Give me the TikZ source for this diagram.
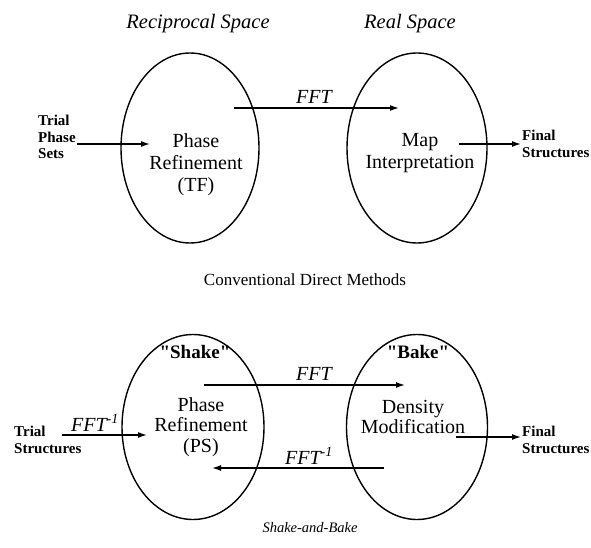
\documentclass[tikz,border=0pt]{standalone}
\usepackage{fontspec}
\setmainfont{Liberation Serif}
\usetikzlibrary{shapes.geometric,arrows.meta}

\begin{document}
\begin{tikzpicture}[x=1pt,y=-1pt,
        region/.style={draw,line width=1.4pt,ellipse,minimum width=138pt,minimum height=190pt},
        heading/.style={font=\fontsize{20.5}{22}\selectfont\itshape},
        stage/.style={align=center,inner sep=1pt,font=\fontsize{20}{22}\selectfont},
        io/.style={align=left,anchor=west,inner sep=1pt,font=\fontsize{15}{16.5}\selectfont\bfseries},
        fft/.style={inner sep=1pt,font=\fontsize{20}{22}\selectfont\itshape},
        nick/.style={inner sep=1pt,font=\fontsize{19}{22}\selectfont\bfseries},
        flow/.style={-{Latex[length=9pt,width=6pt]},line width=1.4pt}
    ]
    \useasboundingbox (0,0) rectangle (591,548);

    % conventional direct methods
    \node[heading] (recipT) at (198,24) {Reciprocal Space};
    \node[heading] (realT) at (410,24) {Real Space};

    \node[region] (recipA) at (190,148) {};
    \node[region,minimum width=140pt] (realA) at (417,148) {};

    \node[stage] (phaseA) at (196,165) {Phase\\Refinement\\(TF)};
    \node[stage] (mapA) at (420,153) {Map\\Interpretation};
    \node[io] (trialA) at (37,137) {Trial\\Phase\\Sets};
    \node[io] (finalA) at (521,144) {Final\\Structures};

    \coordinate (inA) at (150,144);
    \draw[flow] ([yshift=-7pt]trialA.east) -- (inA);

    \coordinate (fftAs) at (234,108);
    \coordinate (fftAe) at (399,108);
    \draw[flow] (fftAs) -- (fftAe);
    \node[fft] (fftA) at (314,97) {FFT};

    \coordinate (outAs) at (459,144);
    \draw[flow] (outAs) -- (finalA.west);

    \node[font=\fontsize{17}{20}\selectfont] (convT) at (305,280) {Conventional Direct Methods};

    % shake-and-bake
    \node[region,minimum width=142pt,minimum height=185pt] (recipB) at (193,427) {};
    \node[region,minimum width=141pt,minimum height=185pt] (realB) at (417,427) {};

    \node[nick] (shake) at (195,352) {\textquotedbl Shake\textquotedbl};
    \node[nick] (bake) at (418,352) {\textquotedbl Bake\textquotedbl};

    \node[stage,font=\fontsize{20}{20.5}\selectfont] (phaseB) at (201,427) {Phase\\Refinement\\(PS)};
    \node[stage,font=\fontsize{20}{20.5}\selectfont] (densB) at (413,417) {Density\\Modification};
    \node[io] (trialB) at (13,440) {Trial\\Structures};
    \node[io] (finalB) at (521,440) {Final\\Structures};

    \node[fft] (fftinvL) at (95,423) {FFT\textsuperscript{-1}};
    \coordinate (inBs) at (62,435);
    \coordinate (inBe) at (147,435);
    \draw[flow] (inBs) -- (inBe);

    \coordinate (fftBs) at (204,385);
    \coordinate (fftBe) at (405,385);
    \draw[flow] (fftBs) -- (fftBe);
    \node[fft] (fftB) at (314,374) {FFT};

    \coordinate (invBs) at (384,468);
    \coordinate (invBe) at (212,468);
    \draw[flow] (invBs) -- (invBe);
    \node[fft] (fftinvB) at (309,456) {FFT\textsuperscript{-1}};

    \coordinate (outBs) at (456,437);
    \draw[flow] (outBs) -- ([yshift=3pt]finalB.west);

    \node[font=\fontsize{14.5}{18}\selectfont\itshape] (snbT) at (310,528) {Shake-and-Bake};

\end{tikzpicture}
\end{document}
